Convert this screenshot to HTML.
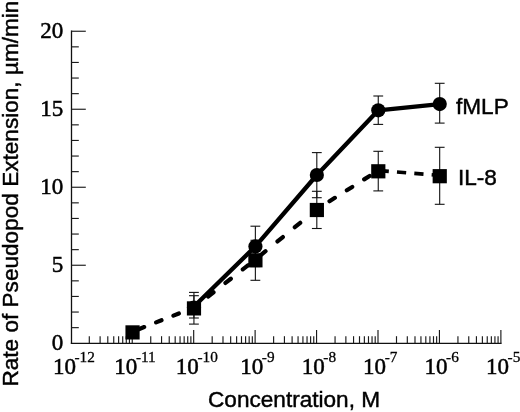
<!DOCTYPE html>
<html><head><meta charset="utf-8"><style>
html,body{margin:0;padding:0;background:#fff;width:520px;height:412px;overflow:hidden}
svg{display:block;filter:grayscale(1)}
</style></head><body>
<svg width="520" height="412" viewBox="0 0 520 412">
<line x1="71.5" y1="30.6" x2="71.5" y2="343.95" stroke="#111" stroke-width="1.3" fill="none"/>
<line x1="70.85" y1="343.3" x2="501.6" y2="343.3" stroke="#111" stroke-width="1.3" fill="none"/>
<line x1="71.5" y1="327.65" x2="78.8" y2="327.65" stroke="#1a1a1a" stroke-width="1.15"/>
<line x1="71.5" y1="312.05" x2="78.8" y2="312.05" stroke="#1a1a1a" stroke-width="1.15"/>
<line x1="71.5" y1="296.45" x2="78.8" y2="296.45" stroke="#1a1a1a" stroke-width="1.15"/>
<line x1="71.5" y1="280.85" x2="78.8" y2="280.85" stroke="#1a1a1a" stroke-width="1.15"/>
<line x1="71.5" y1="265.25" x2="85.8" y2="265.25" stroke="#1a1a1a" stroke-width="1.15"/>
<line x1="71.5" y1="249.65" x2="78.8" y2="249.65" stroke="#1a1a1a" stroke-width="1.15"/>
<line x1="71.5" y1="234.05" x2="78.8" y2="234.05" stroke="#1a1a1a" stroke-width="1.15"/>
<line x1="71.5" y1="218.45" x2="78.8" y2="218.45" stroke="#1a1a1a" stroke-width="1.15"/>
<line x1="71.5" y1="202.85" x2="78.8" y2="202.85" stroke="#1a1a1a" stroke-width="1.15"/>
<line x1="71.5" y1="187.25" x2="85.8" y2="187.25" stroke="#1a1a1a" stroke-width="1.15"/>
<line x1="71.5" y1="171.65" x2="78.8" y2="171.65" stroke="#1a1a1a" stroke-width="1.15"/>
<line x1="71.5" y1="156.05" x2="78.8" y2="156.05" stroke="#1a1a1a" stroke-width="1.15"/>
<line x1="71.5" y1="140.45" x2="78.8" y2="140.45" stroke="#1a1a1a" stroke-width="1.15"/>
<line x1="71.5" y1="124.85" x2="78.8" y2="124.85" stroke="#1a1a1a" stroke-width="1.15"/>
<line x1="71.5" y1="109.25" x2="85.8" y2="109.25" stroke="#1a1a1a" stroke-width="1.15"/>
<line x1="71.5" y1="93.65" x2="78.8" y2="93.65" stroke="#1a1a1a" stroke-width="1.15"/>
<line x1="71.5" y1="78.05" x2="78.8" y2="78.05" stroke="#1a1a1a" stroke-width="1.15"/>
<line x1="71.5" y1="62.45" x2="78.8" y2="62.45" stroke="#1a1a1a" stroke-width="1.15"/>
<line x1="71.5" y1="46.85" x2="78.8" y2="46.85" stroke="#1a1a1a" stroke-width="1.15"/>
<line x1="71.5" y1="31.25" x2="85.8" y2="31.25" stroke="#1a1a1a" stroke-width="1.15"/>
<line x1="89.30" y1="336.2" x2="89.30" y2="343.2" stroke="#1a1a1a" stroke-width="1.15"/>
<line x1="100.11" y1="336.2" x2="100.11" y2="343.2" stroke="#1a1a1a" stroke-width="1.15"/>
<line x1="107.79" y1="336.2" x2="107.79" y2="343.2" stroke="#1a1a1a" stroke-width="1.15"/>
<line x1="113.74" y1="336.2" x2="113.74" y2="343.2" stroke="#1a1a1a" stroke-width="1.15"/>
<line x1="118.61" y1="336.2" x2="118.61" y2="343.2" stroke="#1a1a1a" stroke-width="1.15"/>
<line x1="122.72" y1="336.2" x2="122.72" y2="343.2" stroke="#1a1a1a" stroke-width="1.15"/>
<line x1="126.29" y1="336.2" x2="126.29" y2="343.2" stroke="#1a1a1a" stroke-width="1.15"/>
<line x1="129.43" y1="336.2" x2="129.43" y2="343.2" stroke="#1a1a1a" stroke-width="1.15"/>
<line x1="132.24" y1="330" x2="132.24" y2="343.2" stroke="#1a1a1a" stroke-width="1.15"/>
<line x1="150.74" y1="336.2" x2="150.74" y2="343.2" stroke="#1a1a1a" stroke-width="1.15"/>
<line x1="161.55" y1="336.2" x2="161.55" y2="343.2" stroke="#1a1a1a" stroke-width="1.15"/>
<line x1="169.23" y1="336.2" x2="169.23" y2="343.2" stroke="#1a1a1a" stroke-width="1.15"/>
<line x1="175.18" y1="336.2" x2="175.18" y2="343.2" stroke="#1a1a1a" stroke-width="1.15"/>
<line x1="180.05" y1="336.2" x2="180.05" y2="343.2" stroke="#1a1a1a" stroke-width="1.15"/>
<line x1="184.16" y1="336.2" x2="184.16" y2="343.2" stroke="#1a1a1a" stroke-width="1.15"/>
<line x1="187.73" y1="336.2" x2="187.73" y2="343.2" stroke="#1a1a1a" stroke-width="1.15"/>
<line x1="190.87" y1="336.2" x2="190.87" y2="343.2" stroke="#1a1a1a" stroke-width="1.15"/>
<line x1="193.68" y1="330" x2="193.68" y2="343.2" stroke="#1a1a1a" stroke-width="1.15"/>
<line x1="212.18" y1="336.2" x2="212.18" y2="343.2" stroke="#1a1a1a" stroke-width="1.15"/>
<line x1="222.99" y1="336.2" x2="222.99" y2="343.2" stroke="#1a1a1a" stroke-width="1.15"/>
<line x1="230.67" y1="336.2" x2="230.67" y2="343.2" stroke="#1a1a1a" stroke-width="1.15"/>
<line x1="236.62" y1="336.2" x2="236.62" y2="343.2" stroke="#1a1a1a" stroke-width="1.15"/>
<line x1="241.49" y1="336.2" x2="241.49" y2="343.2" stroke="#1a1a1a" stroke-width="1.15"/>
<line x1="245.60" y1="336.2" x2="245.60" y2="343.2" stroke="#1a1a1a" stroke-width="1.15"/>
<line x1="249.17" y1="336.2" x2="249.17" y2="343.2" stroke="#1a1a1a" stroke-width="1.15"/>
<line x1="252.31" y1="336.2" x2="252.31" y2="343.2" stroke="#1a1a1a" stroke-width="1.15"/>
<line x1="255.12" y1="330" x2="255.12" y2="343.2" stroke="#1a1a1a" stroke-width="1.15"/>
<line x1="273.62" y1="336.2" x2="273.62" y2="343.2" stroke="#1a1a1a" stroke-width="1.15"/>
<line x1="284.43" y1="336.2" x2="284.43" y2="343.2" stroke="#1a1a1a" stroke-width="1.15"/>
<line x1="292.11" y1="336.2" x2="292.11" y2="343.2" stroke="#1a1a1a" stroke-width="1.15"/>
<line x1="298.06" y1="336.2" x2="298.06" y2="343.2" stroke="#1a1a1a" stroke-width="1.15"/>
<line x1="302.93" y1="336.2" x2="302.93" y2="343.2" stroke="#1a1a1a" stroke-width="1.15"/>
<line x1="307.04" y1="336.2" x2="307.04" y2="343.2" stroke="#1a1a1a" stroke-width="1.15"/>
<line x1="310.61" y1="336.2" x2="310.61" y2="343.2" stroke="#1a1a1a" stroke-width="1.15"/>
<line x1="313.75" y1="336.2" x2="313.75" y2="343.2" stroke="#1a1a1a" stroke-width="1.15"/>
<line x1="316.56" y1="330" x2="316.56" y2="343.2" stroke="#1a1a1a" stroke-width="1.15"/>
<line x1="335.06" y1="336.2" x2="335.06" y2="343.2" stroke="#1a1a1a" stroke-width="1.15"/>
<line x1="345.87" y1="336.2" x2="345.87" y2="343.2" stroke="#1a1a1a" stroke-width="1.15"/>
<line x1="353.55" y1="336.2" x2="353.55" y2="343.2" stroke="#1a1a1a" stroke-width="1.15"/>
<line x1="359.50" y1="336.2" x2="359.50" y2="343.2" stroke="#1a1a1a" stroke-width="1.15"/>
<line x1="364.37" y1="336.2" x2="364.37" y2="343.2" stroke="#1a1a1a" stroke-width="1.15"/>
<line x1="368.48" y1="336.2" x2="368.48" y2="343.2" stroke="#1a1a1a" stroke-width="1.15"/>
<line x1="372.05" y1="336.2" x2="372.05" y2="343.2" stroke="#1a1a1a" stroke-width="1.15"/>
<line x1="375.19" y1="336.2" x2="375.19" y2="343.2" stroke="#1a1a1a" stroke-width="1.15"/>
<line x1="378.00" y1="330" x2="378.00" y2="343.2" stroke="#1a1a1a" stroke-width="1.15"/>
<line x1="396.50" y1="336.2" x2="396.50" y2="343.2" stroke="#1a1a1a" stroke-width="1.15"/>
<line x1="407.31" y1="336.2" x2="407.31" y2="343.2" stroke="#1a1a1a" stroke-width="1.15"/>
<line x1="414.99" y1="336.2" x2="414.99" y2="343.2" stroke="#1a1a1a" stroke-width="1.15"/>
<line x1="420.94" y1="336.2" x2="420.94" y2="343.2" stroke="#1a1a1a" stroke-width="1.15"/>
<line x1="425.81" y1="336.2" x2="425.81" y2="343.2" stroke="#1a1a1a" stroke-width="1.15"/>
<line x1="429.92" y1="336.2" x2="429.92" y2="343.2" stroke="#1a1a1a" stroke-width="1.15"/>
<line x1="433.49" y1="336.2" x2="433.49" y2="343.2" stroke="#1a1a1a" stroke-width="1.15"/>
<line x1="436.63" y1="336.2" x2="436.63" y2="343.2" stroke="#1a1a1a" stroke-width="1.15"/>
<line x1="439.44" y1="330" x2="439.44" y2="343.2" stroke="#1a1a1a" stroke-width="1.15"/>
<line x1="457.94" y1="336.2" x2="457.94" y2="343.2" stroke="#1a1a1a" stroke-width="1.15"/>
<line x1="468.75" y1="336.2" x2="468.75" y2="343.2" stroke="#1a1a1a" stroke-width="1.15"/>
<line x1="476.43" y1="336.2" x2="476.43" y2="343.2" stroke="#1a1a1a" stroke-width="1.15"/>
<line x1="482.38" y1="336.2" x2="482.38" y2="343.2" stroke="#1a1a1a" stroke-width="1.15"/>
<line x1="487.25" y1="336.2" x2="487.25" y2="343.2" stroke="#1a1a1a" stroke-width="1.15"/>
<line x1="491.36" y1="336.2" x2="491.36" y2="343.2" stroke="#1a1a1a" stroke-width="1.15"/>
<line x1="494.93" y1="336.2" x2="494.93" y2="343.2" stroke="#1a1a1a" stroke-width="1.15"/>
<line x1="498.07" y1="336.2" x2="498.07" y2="343.2" stroke="#1a1a1a" stroke-width="1.15"/>
<line x1="500.88" y1="330" x2="500.88" y2="343.2" stroke="#1a1a1a" stroke-width="1.15"/>
<text x="63.2" y="350.1" font-family="&quot;Liberation Serif&quot;, serif" stroke="#000" stroke-width="0.5" font-size="23" text-anchor="end">0</text>
<text x="63.2" y="272.1" font-family="&quot;Liberation Serif&quot;, serif" stroke="#000" stroke-width="0.5" font-size="23" text-anchor="end">5</text>
<text x="63.2" y="194.1" font-family="&quot;Liberation Serif&quot;, serif" stroke="#000" stroke-width="0.5" font-size="23" text-anchor="end">10</text>
<text x="63.2" y="116.0" font-family="&quot;Liberation Serif&quot;, serif" stroke="#000" stroke-width="0.5" font-size="23" text-anchor="end">15</text>
<text x="63.2" y="38.0" font-family="&quot;Liberation Serif&quot;, serif" stroke="#000" stroke-width="0.5" font-size="23" text-anchor="end">20</text>
<text x="52.9" y="374.3" font-family="&quot;Liberation Serif&quot;, serif" stroke="#000" stroke-width="0.5" font-size="23">10</text>
<text x="74.5" y="362.4" font-family="&quot;Liberation Serif&quot;, serif" stroke="#000" stroke-width="0.3" font-size="15.3">-12</text>
<text x="114.3" y="374.3" font-family="&quot;Liberation Serif&quot;, serif" stroke="#000" stroke-width="0.5" font-size="23">10</text>
<text x="135.9" y="362.4" font-family="&quot;Liberation Serif&quot;, serif" stroke="#000" stroke-width="0.3" font-size="15.3">-11</text>
<text x="175.8" y="374.3" font-family="&quot;Liberation Serif&quot;, serif" stroke="#000" stroke-width="0.5" font-size="23">10</text>
<text x="197.4" y="362.4" font-family="&quot;Liberation Serif&quot;, serif" stroke="#000" stroke-width="0.3" font-size="15.3">-10</text>
<text x="240.2" y="374.3" font-family="&quot;Liberation Serif&quot;, serif" stroke="#000" stroke-width="0.5" font-size="23">10</text>
<text x="261.8" y="362.4" font-family="&quot;Liberation Serif&quot;, serif" stroke="#000" stroke-width="0.3" font-size="15.3">-9</text>
<text x="301.7" y="374.3" font-family="&quot;Liberation Serif&quot;, serif" stroke="#000" stroke-width="0.5" font-size="23">10</text>
<text x="323.3" y="362.4" font-family="&quot;Liberation Serif&quot;, serif" stroke="#000" stroke-width="0.3" font-size="15.3">-8</text>
<text x="363.1" y="374.3" font-family="&quot;Liberation Serif&quot;, serif" stroke="#000" stroke-width="0.5" font-size="23">10</text>
<text x="384.7" y="362.4" font-family="&quot;Liberation Serif&quot;, serif" stroke="#000" stroke-width="0.3" font-size="15.3">-7</text>
<text x="424.5" y="374.3" font-family="&quot;Liberation Serif&quot;, serif" stroke="#000" stroke-width="0.5" font-size="23">10</text>
<text x="446.1" y="362.4" font-family="&quot;Liberation Serif&quot;, serif" stroke="#000" stroke-width="0.3" font-size="15.3">-6</text>
<text x="486.0" y="374.3" font-family="&quot;Liberation Serif&quot;, serif" stroke="#000" stroke-width="0.5" font-size="23">10</text>
<text x="507.6" y="362.4" font-family="&quot;Liberation Serif&quot;, serif" stroke="#000" stroke-width="0.3" font-size="15.3">-5</text>
<text x="208" y="407.2" font-family="&quot;Liberation Sans&quot;, sans-serif" stroke="#000" stroke-width="0.45" font-size="22.6">Concentration, M</text>
<text transform="translate(18.4,386.6) rotate(-90)" x="0" y="0" font-family="&quot;Liberation Sans&quot;, sans-serif" stroke="#000" stroke-width="0.45" font-size="22.6">Rate of Pseudopod Extension, µm/min</text>
<text x="456" y="113.9" font-family="&quot;Liberation Sans&quot;, sans-serif" stroke="#000" stroke-width="0.45" font-size="22.6">fMLP</text>
<text x="458" y="185.3" font-family="&quot;Liberation Sans&quot;, sans-serif" stroke="#000" stroke-width="0.45" font-size="22.6">IL-8</text>
<line x1="193.93" y1="292.4" x2="193.93" y2="324.1" stroke="#111" stroke-width="1.1"/>
<line x1="189.03" y1="292.4" x2="198.83" y2="292.4" stroke="#111" stroke-width="1.1"/>
<line x1="189.03" y1="324.1" x2="198.83" y2="324.1" stroke="#111" stroke-width="1.1"/>
<line x1="255.37" y1="240.3" x2="255.37" y2="280.3" stroke="#111" stroke-width="1.1"/>
<line x1="250.47" y1="240.3" x2="260.27" y2="240.3" stroke="#111" stroke-width="1.1"/>
<line x1="250.47" y1="280.3" x2="260.27" y2="280.3" stroke="#111" stroke-width="1.1"/>
<line x1="316.81" y1="191.3" x2="316.81" y2="228.5" stroke="#111" stroke-width="1.1"/>
<line x1="311.91" y1="191.3" x2="321.71" y2="191.3" stroke="#111" stroke-width="1.1"/>
<line x1="311.91" y1="228.5" x2="321.71" y2="228.5" stroke="#111" stroke-width="1.1"/>
<line x1="378.25" y1="151.3" x2="378.25" y2="190.9" stroke="#111" stroke-width="1.1"/>
<line x1="373.35" y1="151.3" x2="383.15" y2="151.3" stroke="#111" stroke-width="1.1"/>
<line x1="373.35" y1="190.9" x2="383.15" y2="190.9" stroke="#111" stroke-width="1.1"/>
<line x1="439.69" y1="147.3" x2="439.69" y2="204.3" stroke="#111" stroke-width="1.1"/>
<line x1="434.79" y1="147.3" x2="444.59" y2="147.3" stroke="#111" stroke-width="1.1"/>
<line x1="434.79" y1="204.3" x2="444.59" y2="204.3" stroke="#111" stroke-width="1.1"/>
<line x1="193.93" y1="295.7" x2="193.93" y2="318.0" stroke="#111" stroke-width="1.1"/>
<line x1="189.03" y1="295.7" x2="198.83" y2="295.7" stroke="#111" stroke-width="1.1"/>
<line x1="189.03" y1="318.0" x2="198.83" y2="318.0" stroke="#111" stroke-width="1.1"/>
<line x1="255.37" y1="226.2" x2="255.37" y2="266.6" stroke="#111" stroke-width="1.1"/>
<line x1="250.47" y1="226.2" x2="260.27" y2="226.2" stroke="#111" stroke-width="1.1"/>
<line x1="250.47" y1="266.6" x2="260.27" y2="266.6" stroke="#111" stroke-width="1.1"/>
<line x1="316.81" y1="152.6" x2="316.81" y2="197.7" stroke="#111" stroke-width="1.1"/>
<line x1="311.91" y1="152.6" x2="321.71" y2="152.6" stroke="#111" stroke-width="1.1"/>
<line x1="311.91" y1="197.7" x2="321.71" y2="197.7" stroke="#111" stroke-width="1.1"/>
<line x1="378.25" y1="96.0" x2="378.25" y2="124.4" stroke="#111" stroke-width="1.1"/>
<line x1="373.35" y1="96.0" x2="383.15" y2="96.0" stroke="#111" stroke-width="1.1"/>
<line x1="373.35" y1="124.4" x2="383.15" y2="124.4" stroke="#111" stroke-width="1.1"/>
<line x1="439.69" y1="83.3" x2="439.69" y2="123.1" stroke="#111" stroke-width="1.1"/>
<line x1="434.79" y1="83.3" x2="444.59" y2="83.3" stroke="#111" stroke-width="1.1"/>
<line x1="434.79" y1="123.1" x2="444.59" y2="123.1" stroke="#111" stroke-width="1.1"/>
<polyline points="193.98,306.5 255.42,246.4 316.86,175.0 378.30,110.3 439.74,104.1" fill="none" stroke="#000" stroke-width="4.3" stroke-linejoin="round"/>
<path d="M138.76,329.17 L144.16,327.06 M156.10,322.40 L161.50,320.29 M173.44,315.62 L178.84,313.51 M190.78,308.85 L193.98,307.60 L196.18,305.88 M208.12,296.53 L213.52,292.30 M225.46,282.96 L230.86,278.73 M242.80,269.38 L248.20,265.15 M260.14,255.64 L265.54,251.21 M277.48,241.44 L282.88,237.02 M294.82,227.24 L300.22,222.82 M312.16,213.05 L316.86,209.20 L317.56,208.76 M329.50,201.24 L334.90,197.84 M346.84,190.32 L352.24,186.91 M364.18,179.39 L369.58,175.99" fill="none" stroke="#000" stroke-width="4.2" stroke-linecap="round" stroke-linejoin="round"/>
<path d="M379.62,170.61 L388.82,171.34 M396.96,171.99 L406.16,172.72 M414.30,173.37 L423.50,174.10 M431.64,174.75 L439.74,175.40" fill="none" stroke="#000" stroke-width="3.7" stroke-linecap="butt" stroke-linejoin="round"/>
<circle cx="193.98" cy="307.6" r="7.1" fill="#000"/>
<circle cx="255.42" cy="246.4" r="7.1" fill="#000"/>
<circle cx="316.86" cy="175.0" r="7.1" fill="#000"/>
<circle cx="378.30" cy="110.3" r="7.1" fill="#000"/>
<circle cx="439.74" cy="104.1" r="7.1" fill="#000"/>
<rect x="125.44" y="325.30" width="14.2" height="14.2" fill="#000"/>
<rect x="186.88" y="301.30" width="14.2" height="14.2" fill="#000"/>
<rect x="248.32" y="253.20" width="14.2" height="14.2" fill="#000"/>
<rect x="309.76" y="202.90" width="14.2" height="14.2" fill="#000"/>
<rect x="371.20" y="164.20" width="14.2" height="14.2" fill="#000"/>
<rect x="432.64" y="169.10" width="14.2" height="14.2" fill="#000"/>
</svg>
</body></html>
